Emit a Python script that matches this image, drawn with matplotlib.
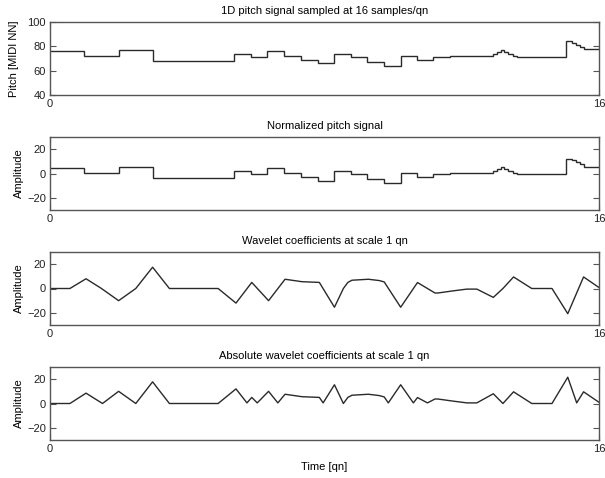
"""
Pitch signal and its wavelet coefficients at scale 1 qn (four stacked panels).
"""
import matplotlib
matplotlib.use('Agg')
import matplotlib.pyplot as plt

# Note boundaries in quarter notes and the pitch held between them
pitch_edges = [0, 1, 2, 3, 5.375, 5.85, 6.33, 6.82, 7.31, 7.8, 8.28,
               8.77, 9.25, 9.74, 10.22, 10.7, 11.17, 11.66, 12.91,
               13.02, 13.15, 13.24, 13.36, 13.49, 13.6, 15.04,
               15.21, 15.34, 15.45, 15.55, 16]
pitch = [76, 72, 77, 68, 74, 71, 76, 72, 69, 66, 74, 71, 67, 64, 72, 69,
         71, 72, 74, 75.5, 77, 75.5, 74, 72, 71, 84, 83, 81, 79.5, 77.5]
pitch_norm = [4.3, 0.2, 5.3, -3.8, 2.2, -0.8, 4.3, 0.2, -2.8, -5.8, 2.2,
              -0.8, -4.8, -7.8, 0.2, -2.8, -0.8, 0.2, 2.2, 3.7, 5.2, 3.7,
              2.2, 0.2, -0.8, 12.2, 11.2, 9.2, 7.7, 5.7]

# Wavelet coefficients (vertices)
wav_t = [0, 0.58, 1.05, 1.5, 2.0, 2.5, 2.99, 3.48, 4.9, 5.42, 5.88, 6.37,
         6.85, 7.34, 7.85, 8.29, 8.55, 8.68, 8.8, 9.28, 9.6, 9.74, 10.22,
         10.71, 11.22, 11.3, 11.76, 12.15, 12.44, 12.92, 13.2, 13.51,
         14.04, 14.63, 15.09, 15.55, 16]
wav_v = [0, 0, 8, 0, -10, 0, 17.5, 0, 0, -12, 5, -10, 7.6, 5.6, 5, -15.4,
         0, 5, 6.8, 7.6, 6.5, 5.4, -15.4, 4.9, -3.7, -3.7, -1.9, -0.5, -0.5,
         -7.3, 0, 9.5, 0, 0, -20.7, 9.5, 0.8]

abs_t = [0, 0.58, 1.05, 1.53, 2.0, 2.5, 2.99, 3.48, 4.9, 5.42, 5.74, 5.88,
         6.04, 6.37, 6.64, 6.85, 7.34, 7.85, 7.96, 8.29, 8.55, 8.68, 8.8,
         9.28, 9.6, 9.74, 9.86, 10.22, 10.59, 10.71, 11.0, 11.22, 11.3,
         11.76, 12.15, 12.44, 12.92, 13.2, 13.51, 14.04, 14.63, 15.09,
         15.35, 15.55, 16]
abs_v = [0, 0, 8.5, 0, 10, 0, 17.8, 0, 0, 12, 0.5, 5, 0.5, 10, 0.5, 7.6,
         5.6, 5, 0.5, 15.4, 0, 5, 6.8, 7.6, 6.5, 5.4, 0.5, 15.4, 0.5, 4.9,
         0.5, 3.7, 3.7, 1.9, 0.5, 0.5, 8, 0, 9.6, 0, 0, 21.6, 0.5, 9.6, 1]

titles = ['1D pitch signal sampled at 16 samples/qn',
          'Normalized pitch signal',
          'Wavelet coefficients at scale 1 qn',
          'Absolute wavelet coefficients at scale 1 qn']

plt.rcParams['font.family'] = ['Liberation Sans', 'DejaVu Sans']
plt.rcParams['font.size'] = 8

line_c = '#2a2a2a'
frame_c = '#555555'

fig = plt.figure(figsize=(6.05, 4.78), dpi=100)
W, H = 605, 478
left, right = 50, 599
tops = [22, 137, 252, 367]
h = 73

axes = []
for top in tops:
    ax = fig.add_axes([left / W, 1 - (top + h) / H, (right - left) / W, h / H])
    axes.append(ax)

axes[0].stairs(pitch, pitch_edges, color=line_c, lw=1.0, baseline=None)
axes[1].stairs(pitch_norm, pitch_edges, color=line_c, lw=1.0, baseline=None)
axes[2].plot(wav_t, wav_v, color=line_c, lw=1.0)
axes[3].plot(abs_t, abs_v, color=line_c, lw=1.0)

for i, ax in enumerate(axes):
    ax.set_xlim(0, 16)
    ax.set_xticks([0, 16])
    ax.set_xticklabels(['0', '16'])
    if i == 0:
        ax.set_ylim(40, 100)
        ax.set_yticks([40, 60, 80, 100])
        ax.set_ylabel('Pitch [MIDI NN]', labelpad=6)
    else:
        ax.set_ylim(-30, 30)
        ax.set_yticks([-20, 0, 20])
        ax.set_ylabel('Amplitude', labelpad=2)
    ax.set_title(titles[i], fontsize=8, pad=6)
    ax.tick_params(direction='in', length=4, right=True, top=True,
                   color=frame_c, labelcolor='#222222', pad=3)
    for s in ax.spines.values():
        s.set_color(frame_c)
        s.set_linewidth(1.0)

axes[3].set_xlabel('Time [qn]', labelpad=6)

fig.savefig('out.png', dpi=100)
